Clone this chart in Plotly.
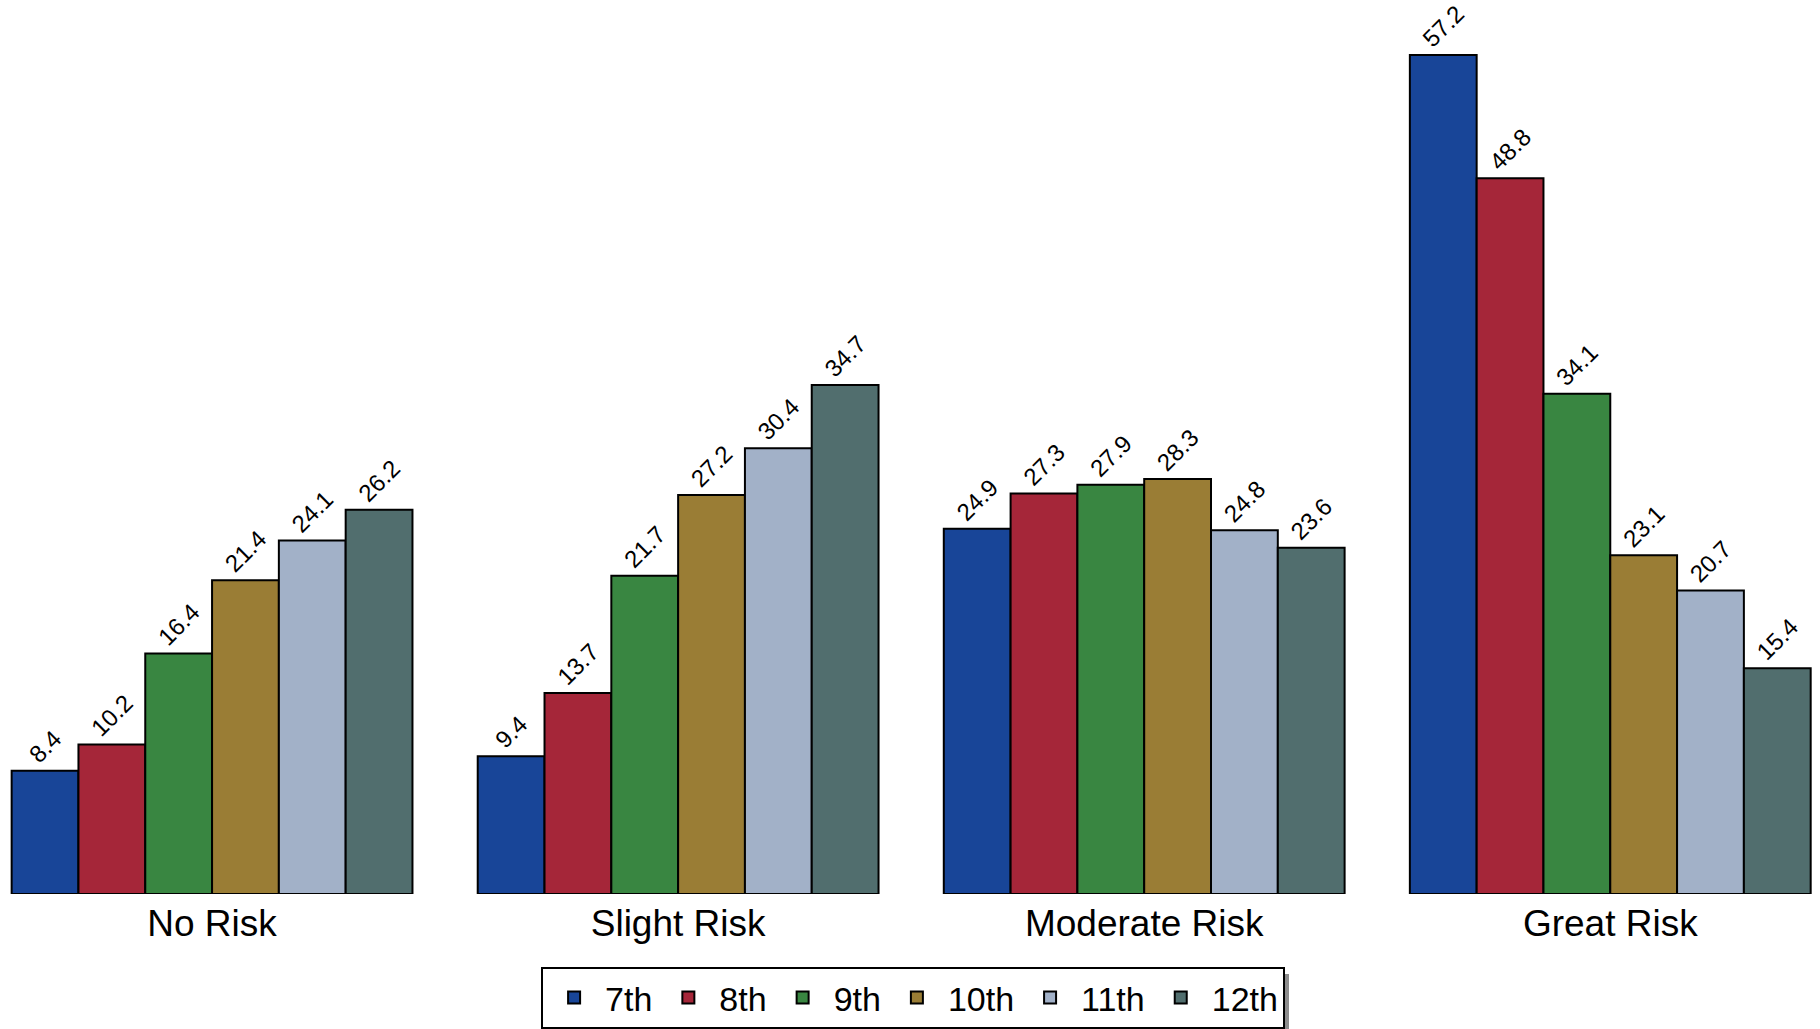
import plotly.graph_objects as go

categories = ["No Risk", "Slight Risk", "Moderate Risk", "Great Risk"]
grades = ["7th", "8th", "9th", "10th", "11th", "12th"]
g7 = [8.4, 9.4, 24.9, 57.2]
g8 = [10.2, 13.7, 27.3, 48.8]
g9 = [16.4, 21.7, 27.9, 34.1]
g10 = [21.4, 27.2, 28.3, 23.1]
g11 = [24.1, 30.4, 24.8, 20.7]
g12 = [26.2, 34.7, 23.6, 15.4]
series = [g7, g8, g9, g10, g11, g12]
colors = ["#184598", "#A52639", "#398641", "#9A7D35", "#A2B1C8", "#516E6E"]

FONT = "Arial, Liberation Sans, sans-serif"

fig = go.Figure()
for name, vals, col in zip(grades, series, colors):
    fig.add_trace(go.Bar(
        x=categories, y=vals, name=name,
        marker=dict(color=col, line=dict(color="black", width=2)),
        text=[f"{v:.1f}" for v in vals],
        textposition="outside", textangle=-45,
        textfont=dict(family=FONT, size=24, color="black"),
        constraintext="none", cliponaxis=False,
    ))

# legend drop shadow (plot area: page y 14 -> value 60, page y 894 -> value 0)
fig.add_shape(type="rect", xref="paper", yref="paper",
              x0=549 / 1820, x1=1289 / 1820,
              y0=(894 - 1031) / 880, y1=(894 - 974) / 880,
              fillcolor="#8c8c8c", line=dict(width=0), layer="below")

fig.update_layout(
    width=1820, height=1029,
    margin=dict(l=0, r=0, t=14, b=135),
    paper_bgcolor="white", plot_bgcolor="white",
    barmode="group", bargap=0.14, bargroupgap=0,
    font=dict(family=FONT, color="black"),
    xaxis=dict(range=[-0.455, 3.45], showgrid=False, showline=False, ticks="",
               tickfont=dict(size=37, color="black"), ticklabelstandoff=4,
               fixedrange=True),
    yaxis=dict(range=[0, 60], visible=False, showgrid=False, zeroline=False,
               fixedrange=True),
    legend=dict(orientation="h", x=0.5017, xanchor="center", y=-0.0835, yanchor="top",
                font=dict(size=34, color="black"), bordercolor="black", borderwidth=2,
                bgcolor="white", itemwidth=52, traceorder="normal"),
    showlegend=True,
)

fig.write_html("out.html", config={"displayModeBar": False},
               post_script="document.body.style.margin='0';")
